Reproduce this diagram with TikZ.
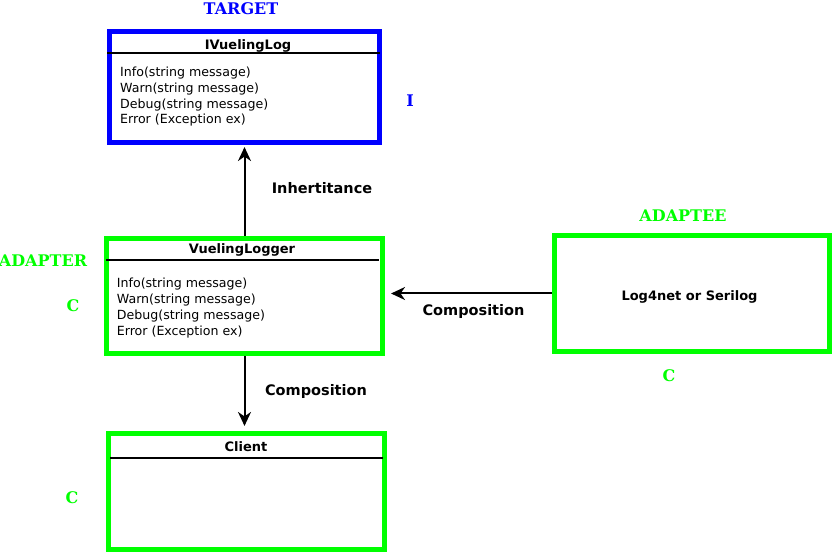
\documentclass[tikz,border=0pt]{standalone}
\usepackage{fontspec}
\setmainfont{DejaVu Sans}
\newfontfamily\tagfont{DejaVu Serif}
\usetikzlibrary{arrows.meta}
\definecolor{mblue}{rgb}{0, 0, 1}
\definecolor{mgreen}{rgb}{0, 1, 0}
\tikzset{box/.style = {draw = #1, line width = 4.6pt, inner sep = 0}}
\tikzset{bar/.style = {line width = 2.8pt}}
\tikzset{arr/.style = {line width = 2pt, -{Stealth[length = 14pt, width = 13pt, inset = 4.5pt]}}}
\tikzset{tag/.style = {font = \tagfont\bfseries\fontsize{16}{16}\selectfont, inner sep = 0}}
\tikzset{title/.style = {font = \bfseries\fontsize{13}{13}\selectfont, inner sep = 0, anchor = base}}
\tikzset{meth/.style = {font = \fontsize{12.6}{15.7}\selectfont, align = left, inner sep = 0, anchor = base west}}
\tikzset{lbl/.style = {font = \bfseries\fontsize{14.5}{14.5}\selectfont, inner sep = 0, anchor = base}}
\newcommand{\methlist}{Info(string message)\\ Warn(string message)\\ Debug(string message)\\ Error (Exception ex)}

\begin{document}
\begin{tikzpicture}[x = 1pt, y = -1pt]
      \useasboundingbox (0, 0) rectangle (835, 553);
      \node [box = mblue, minimum width = 270.5, minimum height = 111.5] (ilog) at (244.5, 87) {};
      \node [title] (ilog-t) at (248, 49.3) {IVuelingLog};
      \draw [bar] (107, 53) -- (380, 53);
      \node [meth] (ilog-m) at (120, 124) {\methlist};
      \node [box = mgreen, minimum width = 276.5, minimum height = 115.5] (logger) at (244.5, 296) {};
      \node [title] (logger-t) at (242, 254) {VuelingLogger};
      \draw [bar] (106, 260) -- (379, 260);
      \node [meth] (logger-m) at (116.7, 335) {\methlist};
      \node [box = mgreen, minimum width = 275.5, minimum height = 116.5] (lib) at (692, 293.5) {};
      \node [title] (lib-t) at (689.5, 300.7) {Log4net or Serilog};
      \node [box = mgreen, minimum width = 276.5, minimum height = 116.5] (client) at (246.5, 491.5) {};
      \node [title] (client-t) at (246, 451.5) {Client};
      \draw [bar] (110, 458) -- (383, 458);
      \draw [arr, shorten > = 2pt] (logger) -- (ilog);
      \draw [arr, shorten > = 6pt] (lib.west) -- (lib.west -| logger.east);
      \draw [arr, shorten > = 5pt] (logger.south) -- (logger.south |- client.north);
      \node [lbl] (inh) at (322, 194) {Inhertitance};
      \node [lbl] (comp-a) at (473.5, 316) {Composition};
      \node [lbl] (comp-b) at (316, 395.5) {Composition};
      \node [tag, text = mblue] (target) at (241, 9) {TARGET};
      \node [tag, text = mblue] (kind-i) at (410, 101) {I};
      \node [tag, text = mgreen] (adapter) at (43, 260.5) {ADAPTER};
      \node [tag, text = mgreen] (kind-a) at (73, 305.5) {C};
      \node [tag, text = mgreen] (adaptee) at (683, 216) {ADAPTEE};
      \node [tag, text = mgreen] (kind-b) at (669, 376) {C};
      \node [tag, text = mgreen] (kind-c) at (72, 498) {C};
    \end{tikzpicture}
\end{document}
